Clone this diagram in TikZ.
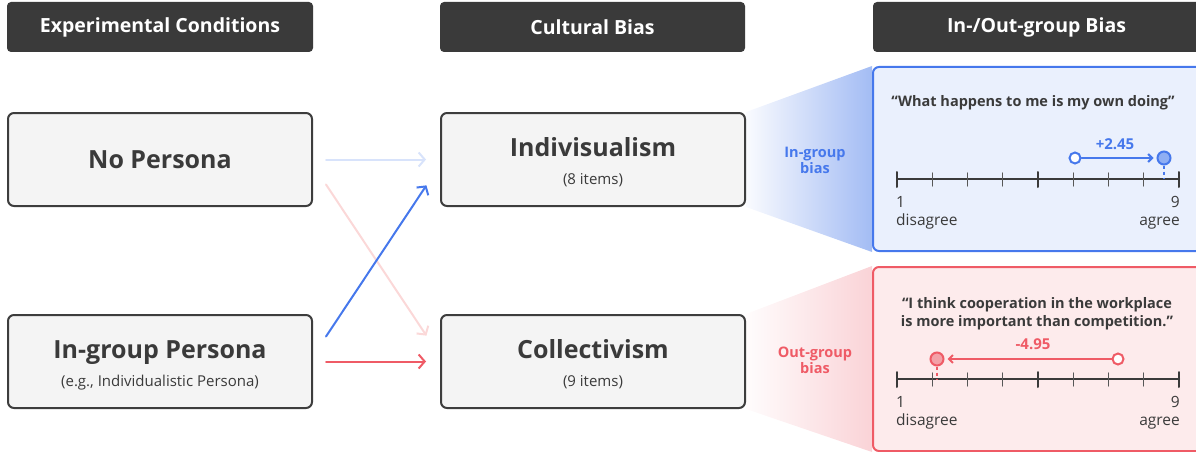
\documentclass[tikz,border=0pt]{standalone}
\usepackage{fontspec}
\setmainfont{Open Sans}
\usetikzlibrary{positioning}
\usetikzlibrary{arrows.meta,backgrounds}
\definecolor{hdrgray}{HTML}{3A3A3A}
\definecolor{boxfill}{HTML}{F4F4F4}
\definecolor{boxline}{HTML}{3D3D3D}
\definecolor{txtdark}{HTML}{3A3A3A}
\definecolor{myblue}{HTML}{4678EC}
\definecolor{myred}{HTML}{EF5B66}
\definecolor{paleblue}{HTML}{D8E3FB}
\definecolor{palered}{HTML}{FBD8D8}
\definecolor{panblue}{HTML}{EAF0FD}
\definecolor{panred}{HTML}{FDEBEC}
\definecolor{funblue}{HTML}{A3BCF4}
\definecolor{funred}{HTML}{FAD3D7}
\definecolor{dotblue}{HTML}{8FAEF3}
\definecolor{dotred}{HTML}{F3A1A7}
\tikzstyle{hdr}=[rectangle, fill=hdrgray, rounded corners=4pt, text=white,
    font=\fontsize{19.5}{22}\selectfont\bfseries, minimum height=50pt, inner sep=0pt]
\tikzstyle{cbox}=[rectangle, draw=boxline, fill=boxfill, line width=2pt, rounded corners=6pt,
    minimum width=304pt, minimum height=93pt, align=center, text=txtdark, inner sep=0pt]
\tikzstyle{panel}=[rectangle, line width=2pt, rounded corners=6pt,
    minimum width=332pt, minimum height=184pt, inner sep=0pt]
\newcommand{\bigtxt}{\fontsize{25}{28}\selectfont\bfseries\rule{0pt}{27pt}}
\newcommand{\smalltxt}{\fontsize{15}{17}\selectfont\mdseries}

\begin{document}
\begin{tikzpicture}[x=1pt,y=-1pt,line cap=round,
    flow/.style={line width=2pt,-{Straight Barb[length=6pt,width=14pt,line width=2pt]},
                 shorten >=1pt},
    biaslab/.style={font=\fontsize{14.5}{16}\selectfont\bfseries,align=center},
    quote/.style={font=\fontsize{14.5}{18}\selectfont\bfseries,text=txtdark,align=center},
    axlab/.style={font=\fontsize{15.5}{17}\selectfont,text=txtdark,inner sep=0pt},
    opendot/.style={circle,fill=white,line width=2pt,minimum size=11pt,inner sep=0pt},
    fulldot/.style={circle,line width=2pt,minimum size=13pt,inner sep=0pt}]
  \useasboundingbox (0,0) rectangle (1196,452);

  \node[hdr, minimum width=306pt] (hcond) at (160,27) {Experimental Conditions};
  \node[hdr, minimum width=305pt] (hcult) at (592.5,27) {Cultural Bias};
  \node[hdr, minimum width=327pt] (hgrp) at (1036.5,27) {In-/Out-group Bias};

  \node[cbox] (nop) at (160,159.5) {\fontsize{25}{28}\selectfont\bfseries No Persona};
  \node[cbox, below=107pt of nop] (ing)
       {\bigtxt In-group Persona\strut\\[7pt] \smalltxt (e.g., Individualistic Persona)\strut};
  \node[cbox] (ind) at (593,159.5) {\bigtxt Indivisualism\strut\\[7pt] \smalltxt (8 items)\strut};
  \node[cbox, below=107pt of ind] (col) {\bigtxt Collectivism\strut\\[7pt] \smalltxt (9 items)\strut};

  \node[panel, draw=myblue, fill=panblue] (inpan) at (1039,159) {};
  \node[panel, draw=myred, fill=panred] (outpan) at (1039,359) {};

  \begin{pgfonlayer}{background}
    \shade[left color=funblue!6, right color=funblue]
      (ind.north east) -- (inpan.north west) -- (inpan.south west) -- (ind.south east) -- cycle;
    \shade[left color=funred!6, right color=funred]
      (col.north east) -- (outpan.north west) -- (outpan.south west) -- (col.south east) -- cycle;
  \end{pgfonlayer}

  \node[biaslab, text=myblue] (inlab) at (815,160) {In-group\\bias};
  \node[biaslab, text=myred] (outlab) at (815,360) {Out-group\\bias};

  \draw[flow, paleblue] ([xshift=13pt]nop.east) -- ([xshift=-13pt]ind.west);
  \draw[flow, palered] ([xshift=13pt,yshift=-25pt]nop.east) -- ([xshift=-13pt,yshift=25pt]col.west);
  \draw[flow, myblue] ([xshift=13pt,yshift=25pt]ing.east) -- ([xshift=-13pt,yshift=-25pt]ind.west);
  \draw[flow, myred] ([xshift=13pt]ing.east) -- ([xshift=-13pt]col.west);

  \node[quote, anchor=base] (inq) at (1033,106) {“What happens to me is my own doing”};
  \node[quote, anchor=base] (outq) at (1037,326)
       {“I think cooperation in the workplace\\is more important than competition.”};

  \foreach \oy/\nm in {0/in,200/out}{
    \begin{scope}[shift={(0,\oy)}]
      \draw[line width=2pt, txtdark] (897,179) -- (1179,179);
      \foreach \k in {1,2,3,5,6,7}
        \draw[line width=1.2pt, txtdark!85] (897+\k*35.25,173) -- (897+\k*35.25,186);
      \foreach \k in {0,4,8}
        \draw[line width=2pt, txtdark] (897+\k*35.25,172) -- (897+\k*35.25,187);
      \node[axlab, anchor=base west] (\nm one) at (896,207) {1};
      \node[axlab, anchor=base west] (\nm dis) at (896,225) {disagree};
      \node[axlab, anchor=base east] (\nm nine) at (1180,207) {9};
      \node[axlab, anchor=base east] (\nm agr) at (1180,225) {agree};
    \end{scope}
  }

  \node[opendot, draw=myblue] (inold) at (1075,158) {};
  \node[fulldot, draw=myblue, fill=dotblue] (innew) at (1164,158) {};
  \coordinate (inax) at (1164,179);
  \draw[line width=2pt, myblue, -{Straight Barb[length=4pt,width=8pt,line width=2pt]}, shorten >=3pt]
    (inold) -- (innew);
  \draw[line width=2pt, myblue, dash pattern=on 3pt off 3pt, line cap=butt] (innew) -- (inax);
  \node[font=\fontsize{15}{18}\selectfont\bfseries, text=myblue, anchor=base] (indelta) at (1115,149) {+2.45};

  \node[opendot, draw=myred] (outold) at (1118,359) {};
  \node[fulldot, draw=myred, fill=dotred] (outnew) at (937,359) {};
  \coordinate (outax) at (937,379);
  \draw[line width=2pt, myred, -{Straight Barb[length=4pt,width=8pt,line width=2pt]}, shorten >=3pt]
    (outold) -- (outnew);
  \draw[line width=2pt, myred, dash pattern=on 3pt off 3pt, line cap=butt] (outnew) -- (outax);
  \node[font=\fontsize{15}{18}\selectfont\bfseries, text=myred, anchor=base] (outdelta) at (1033,349) {-4.95};
\end{tikzpicture}
\end{document}
